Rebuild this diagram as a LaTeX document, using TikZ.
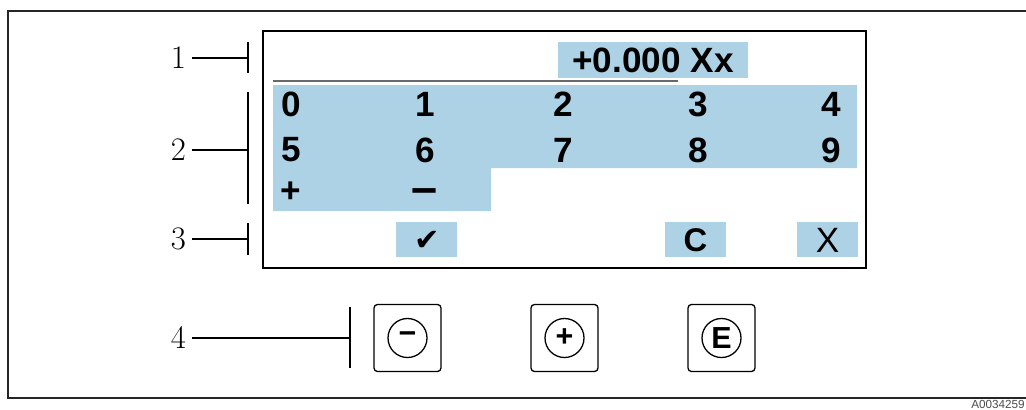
\documentclass[tikz,border=0pt]{standalone}
\usepackage{fontspec}
\newfontfamily\keyfont{Liberation Sans}
\newfontfamily\symfont{DejaVu Sans}
\usetikzlibrary{positioning}
\definecolor{keyblue}{RGB}{174,210,229}
\definecolor{rulegray}{RGB}{105,105,105}
\tikzset{
  keydigit/.style={font=\keyfont\bfseries\fontsize{30}{30}\selectfont, inner sep=0pt},
  callout/.style={font=\fontsize{28}{28}\selectfont, inner sep=0pt, outer sep=1.8mm, anchor=east},
  leader/.style={line width=1.2pt},
  pushbtn/.style={draw, line width=1.1pt, rounded corners=3pt, minimum size=20.1mm, inner sep=0pt},
  btnring/.style={draw, circle, line width=1.1pt, minimum size=11.7mm, inner sep=0pt,
    font=\keyfont\bfseries\fontsize{26}{26}\selectfont},
}
\begin{document}
\begin{tikzpicture}[x=0.3mm, y=-0.3mm]
\useasboundingbox (0,0) rectangle (1026,409);

% Outer frame and display
\draw[line width=1.8pt, black!85] (8,11) rectangle (1040,398);
\draw[line width=1.4pt] (263,31) rectangle (866,268);

% Value field
\fill[keyblue] (558,42) rectangle (748,78);
\node[keydigit] (value) at (653,60) {+0.000 Xx};
\draw[line width=2pt, rulegray] (273,81) -- (678,81);

% Keypad
\fill[keyblue] (273,85) -- (857,85) -- (857,168) -- (491,168) -- (491,211) -- (273,211) -- cycle;
\foreach \d/\x in {0/291,1/425,2/563,3/698,4/831} {
    \node[keydigit] (k\d) at (\x,104) {\d};
}
\foreach \d/\x in {5/291,6/425,7/563,8/698,9/831} {
    \node[keydigit] (k\d) at (\x,150) {\d};
}
\node[keydigit] (kplus) at (291,192) {+};
\node[keydigit, font=\keyfont\bfseries\fontsize{40}{40}\selectfont] (kminus) at (425,196) {–};

% Bottom row: accept, clear, cancel
\fill[keyblue] (396,222) rectangle (457,257);
\fill[keyblue] (665,222) rectangle (726,257);
\fill[keyblue] (797,222) rectangle (858,257);
\node[font=\symfont\fontsize{26}{26}\selectfont, inner sep=0pt] (accept) at (427,241) {✔};
\node[keydigit, font=\keyfont\bfseries\fontsize{28}{28}\selectfont] (clear) at (695.5,240) {C};
\node[keydigit, font=\keyfont\fontsize{30}{30}\selectfont] (cancel) at (827.5,240) {X};

% Operating keys
\node[pushbtn] (bminus) at (407.5,338) {};
\node[pushbtn] (bplus) at (564.5,338) {};
\node[pushbtn] (benter) at (721.5,338) {};
\node[btnring] (rminus) at (bminus) {−};
\node[btnring] (rplus) at (bplus) {+};
\node[btnring] (renter) at (benter) {E};

% Callouts
\node[callout] (c1) at (192,58) {1};
\node[callout] (c2) at (192,150) {2};
\node[callout] (c3) at (192,239) {3};
\node[callout] (c4) at (192,338) {4};
\coordinate (t1) at (248,58);
\coordinate (t2) at (248,150);
\coordinate (t3) at (248,239);
\coordinate (t4) at (350,338);
\draw[leader] (c1.east) -- (t1);
\draw[leader] (c2.east) -- (t2);
\draw[leader] (c3.east) -- (t3);
\draw[leader] (c4.east) -- (t4);
\draw[leader] (248,42) -- (248,73);
\draw[leader] (248,92) -- (248,204);
\draw[leader] (248,223) -- (248,255);
\draw[leader] (350,307) -- (350,368);

% Drawing number
\node[font=\keyfont\fontsize{10}{10}\selectfont, text=black!70, anchor=east, inner sep=0pt] (docnum) at (1025,404) {A0034259};

\end{tikzpicture}
\end{document}
